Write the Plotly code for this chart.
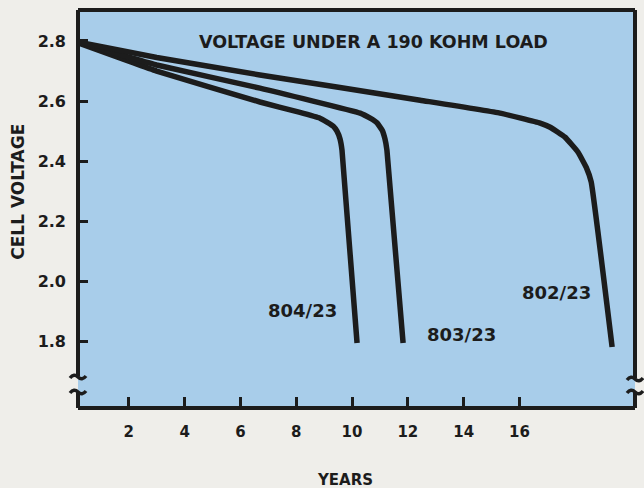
import plotly.graph_objects as go

# Cell voltage under a 190 kOhm load, three cell types
years_804 = [0.0, 3.0, 6.7, 8.1, 8.85, 9.10, 9.32, 9.46, 9.57, 9.64, 10.18]
volts_804 = [2.80, 2.70, 2.597, 2.563, 2.543, 2.530, 2.517, 2.500, 2.474, 2.437, 1.795]

years_803 = [0.0, 3.0, 6.7, 10.29, 10.65, 10.90, 11.08, 11.18, 11.25, 11.83]
volts_803 = [2.80, 2.72, 2.643, 2.560, 2.543, 2.527, 2.503, 2.474, 2.437, 1.795]

years_802 = [0.0, 3.0, 6.7, 12.44, 15.30, 16.74, 17.10, 17.63, 18.10, 18.39, 18.57, 19.32]
volts_802 = [2.80, 2.745, 2.687, 2.603, 2.560, 2.527, 2.513, 2.480, 2.430, 2.380, 2.331, 1.782]

series_names = ["804/23", "803/23", "802/23"]
label_years = [8.24, 13.94, 17.31]
label_volts = [1.905, 1.822, 1.962]

x_ticks = [2, 4, 6, 8, 10, 12, 14, 16]
y_ticks = [1.8, 2.0, 2.2, 2.4, 2.6, 2.8]
y_tick_text = ["1.8", "2.0", "2.2", "2.4", "2.6", "2.8"]

INK = "#1c1c1c"
FONT = "DejaVu Sans"

fig = go.Figure()
for xs, ys, name in [(years_804, volts_804, series_names[0]),
                     (years_803, volts_803, series_names[1]),
                     (years_802, volts_802, series_names[2])]:
    fig.add_trace(go.Scatter(
        x=xs, y=ys, mode="lines", name=name,
        line=dict(color=INK, width=5.5, shape="spline", smoothing=0.3),
        showlegend=False, hoverinfo="skip",
    ))

for name, lx, ly in zip(series_names, label_years, label_volts):
    fig.add_annotation(x=lx, y=ly, text=name, showarrow=False,
                       xanchor="center", yanchor="middle",
                       font=dict(family=FONT, size=18, color=INK, weight="bold"))

# Frame with axis-break marks on both vertical sides
W, H = 557.0, 398.0


def px(x):
    return x / W


def py(y):
    return (H - y) / H


frame = dict(color=INK, width=4)
shapes = [
    dict(type="line", xref="paper", yref="paper", x0=0, x1=1, y0=1, y1=1, line=frame),
    dict(type="line", xref="paper", yref="paper", x0=0, x1=1, y0=0, y1=0, line=frame),
    dict(type="line", xref="paper", yref="paper", x0=0, x1=0, y0=1, y1=py(366), line=frame),
    dict(type="line", xref="paper", yref="paper", x0=0, x1=0, y0=py(382), y1=0, line=frame),
    dict(type="line", xref="paper", yref="paper", x0=1, x1=1, y0=1, y1=py(368), line=frame),
    dict(type="line", xref="paper", yref="paper", x0=1, x1=1, y0=py(382), y1=0, line=frame),
]


def squiggle(cx, cy):
    return (f"M {px(cx - 8)},{py(cy + 1)} "
            f"Q {px(cx - 4)},{py(cy - 4)} {px(cx)},{py(cy)} "
            f"T {px(cx + 8)},{py(cy - 1)}")


for cx, cy in [(0, 367), (0, 382), (557, 369), (557, 382)]:
    shapes.append(dict(type="path", xref="paper", yref="paper",
                       path=squiggle(cx, cy), line=dict(color=INK, width=3.5)))

fig.update_layout(
    width=644, height=488,
    margin=dict(l=78, r=9, t=10, b=80),
    paper_bgcolor="#efeeea",
    plot_bgcolor="#a8cdea",
    font=dict(family=FONT, size=15, color=INK, weight="bold"),
    shapes=shapes,
    xaxis=dict(range=[0.18, 20.14], tickvals=x_ticks, ticks="inside",
               ticklen=11, tickwidth=3, tickcolor=INK, showgrid=False,
               zeroline=False, showline=False, ticklabelstandoff=13,
               tickfont=dict(size=15)),
    yaxis=dict(range=[1.579, 2.903], tickvals=y_ticks, ticktext=y_tick_text,
               ticks="inside", ticklen=10, tickwidth=3, tickcolor=INK,
               showgrid=False, zeroline=False, showline=False,
               ticklabelstandoff=11, tickfont=dict(size=16)),
    annotations=list(fig.layout.annotations) + [
        dict(xref="paper", yref="paper", x=0.531, y=0.920,
             xanchor="center", yanchor="middle",
             text="VOLTAGE UNDER A 190 KOHM LOAD", showarrow=False,
             font=dict(family=FONT, size=17.5, color=INK, weight="bold")),
        dict(xref="paper", yref="paper", x=0.479, y=-0.181, text="YEARS",
             xanchor="center", yanchor="middle",
             showarrow=False, font=dict(family=FONT, size=15, color=INK, weight="bold")),
        dict(xref="paper", yref="paper", x=-0.108, y=0.543, text="CELL VOLTAGE",
             xanchor="center", yanchor="middle",
             textangle=-90, showarrow=False,
             font=dict(family=FONT, size=17, color=INK, weight="bold")),
    ],
)

fig.write_html("out.html")
